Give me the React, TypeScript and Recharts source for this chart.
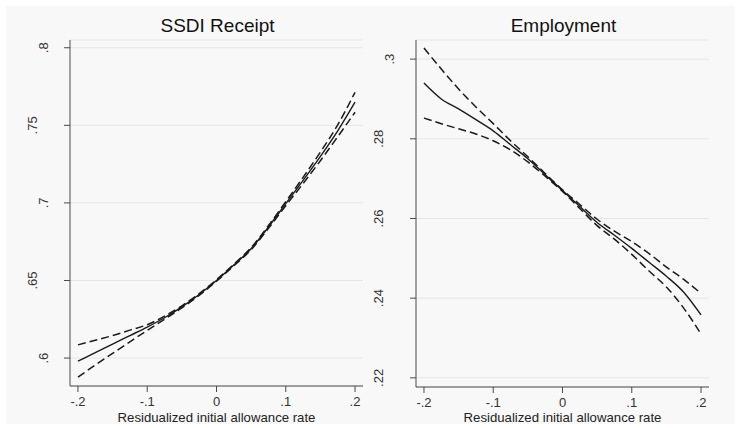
import React from "react";
import { LineChart, Line, XAxis, YAxis, CartesianGrid } from "recharts";

const xValues = [-0.2, -0.175, -0.15, -0.125, -0.1, -0.075, -0.05, -0.025, 0, 0.025, 0.05, 0.075, 0.1, 0.125, 0.15, 0.175, 0.2];

const ssdiEst = [0.598, 0.6035, 0.609, 0.6145, 0.62, 0.626, 0.633, 0.641, 0.65, 0.66, 0.6705, 0.6845, 0.6995, 0.7145, 0.73, 0.7465, 0.765];
const ssdiHi = [0.6085, 0.6115, 0.6145, 0.618, 0.6215, 0.627, 0.6337, 0.6416, 0.6505, 0.6605, 0.6712, 0.6854, 0.7008, 0.7165, 0.7328, 0.7503, 0.7713];
const ssdiLo = [0.5877, 0.5955, 0.603, 0.6105, 0.6178, 0.625, 0.6323, 0.6404, 0.6495, 0.6595, 0.6698, 0.6836, 0.6982, 0.7125, 0.7272, 0.7427, 0.7584];

const empEst = [0.294, 0.29, 0.2875, 0.2848, 0.282, 0.2785, 0.275, 0.271, 0.267, 0.263, 0.259, 0.2558, 0.2525, 0.249, 0.2455, 0.2415, 0.2358];
const empHi = [0.3028, 0.2975, 0.2925, 0.288, 0.2838, 0.2795, 0.2755, 0.2713, 0.2672, 0.2635, 0.2598, 0.2568, 0.2542, 0.2512, 0.2478, 0.2447, 0.2412];
const empLo = [0.2852, 0.2838, 0.2825, 0.2812, 0.2795, 0.2772, 0.2742, 0.2706, 0.2668, 0.2625, 0.2582, 0.2548, 0.251, 0.2468, 0.2428, 0.2375, 0.231];

const xTicks = [-0.2, -0.1, 0, 0.1, 0.2];
const ssdiTicks = [0.6, 0.65, 0.7, 0.75, 0.8];
const empTicks = [0.22, 0.24, 0.26, 0.28, 0.3];

const titles = ["SSDI Receipt", "Employment"];
const xLabel = "Residualized initial allowance rate";

const FONT = "'Liberation Sans', Arial, sans-serif";
const AXIS = "#4a4a4a";
const LINE = "#1a1a1a";

const fmt = (v: number) => {
  if (Math.abs(v) < 1e-9) return "0";
  return String(Number(v.toFixed(4))).replace("0.", ".");
};

const build = (est: number[], lo: number[], hi: number[]) =>
  xValues.map((x, i) => ({ x, est: est[i], lo: lo[i], hi: hi[i] }));

const ssdiData = build(ssdiEst, ssdiLo, ssdiHi);
const empData = build(empEst, empLo, empHi);

const makeYTick = (axisX: number) => (props: any) => {
  const { y, payload } = props;
  const label = fmt(payload.value);
  const bx = axisX - 11 * label.length;
  return (
    <text
      x={bx}
      y={y}
      transform={`rotate(-90, ${bx}, ${y})`}
      textAnchor="middle"
      fontSize={13}
      fontFamily={FONT}
      fill="#333"
    >
      {label}
    </text>
  );
};

const XLabel = (props: any) => {
  const { viewBox } = props;
  const cx = viewBox.x + viewBox.width / 2;
  return (
    <text x={cx} y={422} textAnchor="middle" fontSize={13.2} fontFamily={FONT} fill="#222">
      {xLabel}
    </text>
  );
};

type PanelProps = {
  data: any[];
  yDomain: [number, number];
  yTicks: number[];
  left: number;
  yAxisWidth: number;
  marginRight: number;
  marginBottom: number;
};

const Panel = ({ data, yDomain, yTicks, left, yAxisWidth, marginRight, marginBottom }: PanelProps) => {
  const axisX = yAxisWidth;
  return (
    <div style={{ position: "absolute", left, top: 0 }}>
      <LineChart
        width={370}
        height={428}
        data={data}
        margin={{ top: 40, right: marginRight, bottom: marginBottom, left: 0 }}
      >
        <CartesianGrid horizontal vertical={false} stroke="#e6e6e6" strokeWidth={1} />
        <XAxis
          dataKey="x"
          type="number"
          domain={[-0.2115, 0.2115]}
          ticks={xTicks}
          tickFormatter={fmt}
          allowDataOverflow
          height={38}
          tickSize={6}
          tickMargin={5}
          axisLine={{ stroke: AXIS }}
          tickLine={{ stroke: AXIS }}
          tick={{ fontSize: 13, fontFamily: FONT, fill: "#333" }}
          label={<XLabel />}
        />
        <YAxis
          type="number"
          domain={yDomain}
          ticks={yTicks}
          allowDataOverflow
          width={yAxisWidth}
          tickSize={6}
          axisLine={{ stroke: AXIS }}
          tickLine={{ stroke: AXIS }}
          tick={makeYTick(axisX)}
        />
        <Line dataKey="hi" type="monotone" stroke={LINE} strokeWidth={1.5} strokeDasharray="8 4" dot={false} isAnimationActive={false} />
        <Line dataKey="lo" type="monotone" stroke={LINE} strokeWidth={1.5} strokeDasharray="8 4" dot={false} isAnimationActive={false} />
        <Line dataKey="est" type="monotone" stroke={LINE} strokeWidth={1.4} dot={false} isAnimationActive={false} />
      </LineChart>
    </div>
  );
};

export default function App() {
  return (
    <div style={{ position: "absolute", left: 0, top: 0, width: 740, height: 428, background: "#ffffff", overflow: "hidden" }}>
      <div style={{ position: "absolute", left: 6, top: 6, width: 729, height: 418, background: "#f8f8f8" }} />
      <Panel data={ssdiData} yDomain={[0.582, 0.805]} yTicks={ssdiTicks} left={0} yAxisWidth={70} marginRight={7} marginBottom={4} />
      <Panel data={empData} yDomain={[0.2177, 0.3048]} yTicks={empTicks} left={370} yAxisWidth={46} marginRight={31} marginBottom={3} />
      <svg width={740} height={428} style={{ position: "absolute", left: 0, top: 0, pointerEvents: "none" }}>
        <text x={217.5} y={32} textAnchor="middle" fontSize={19} fontFamily={FONT} fill="#111">{titles[0]}</text>
        <text x={563.5} y={32} textAnchor="middle" fontSize={19} fontFamily={FONT} fill="#111">{titles[1]}</text>
      </svg>
    </div>
  );
}
